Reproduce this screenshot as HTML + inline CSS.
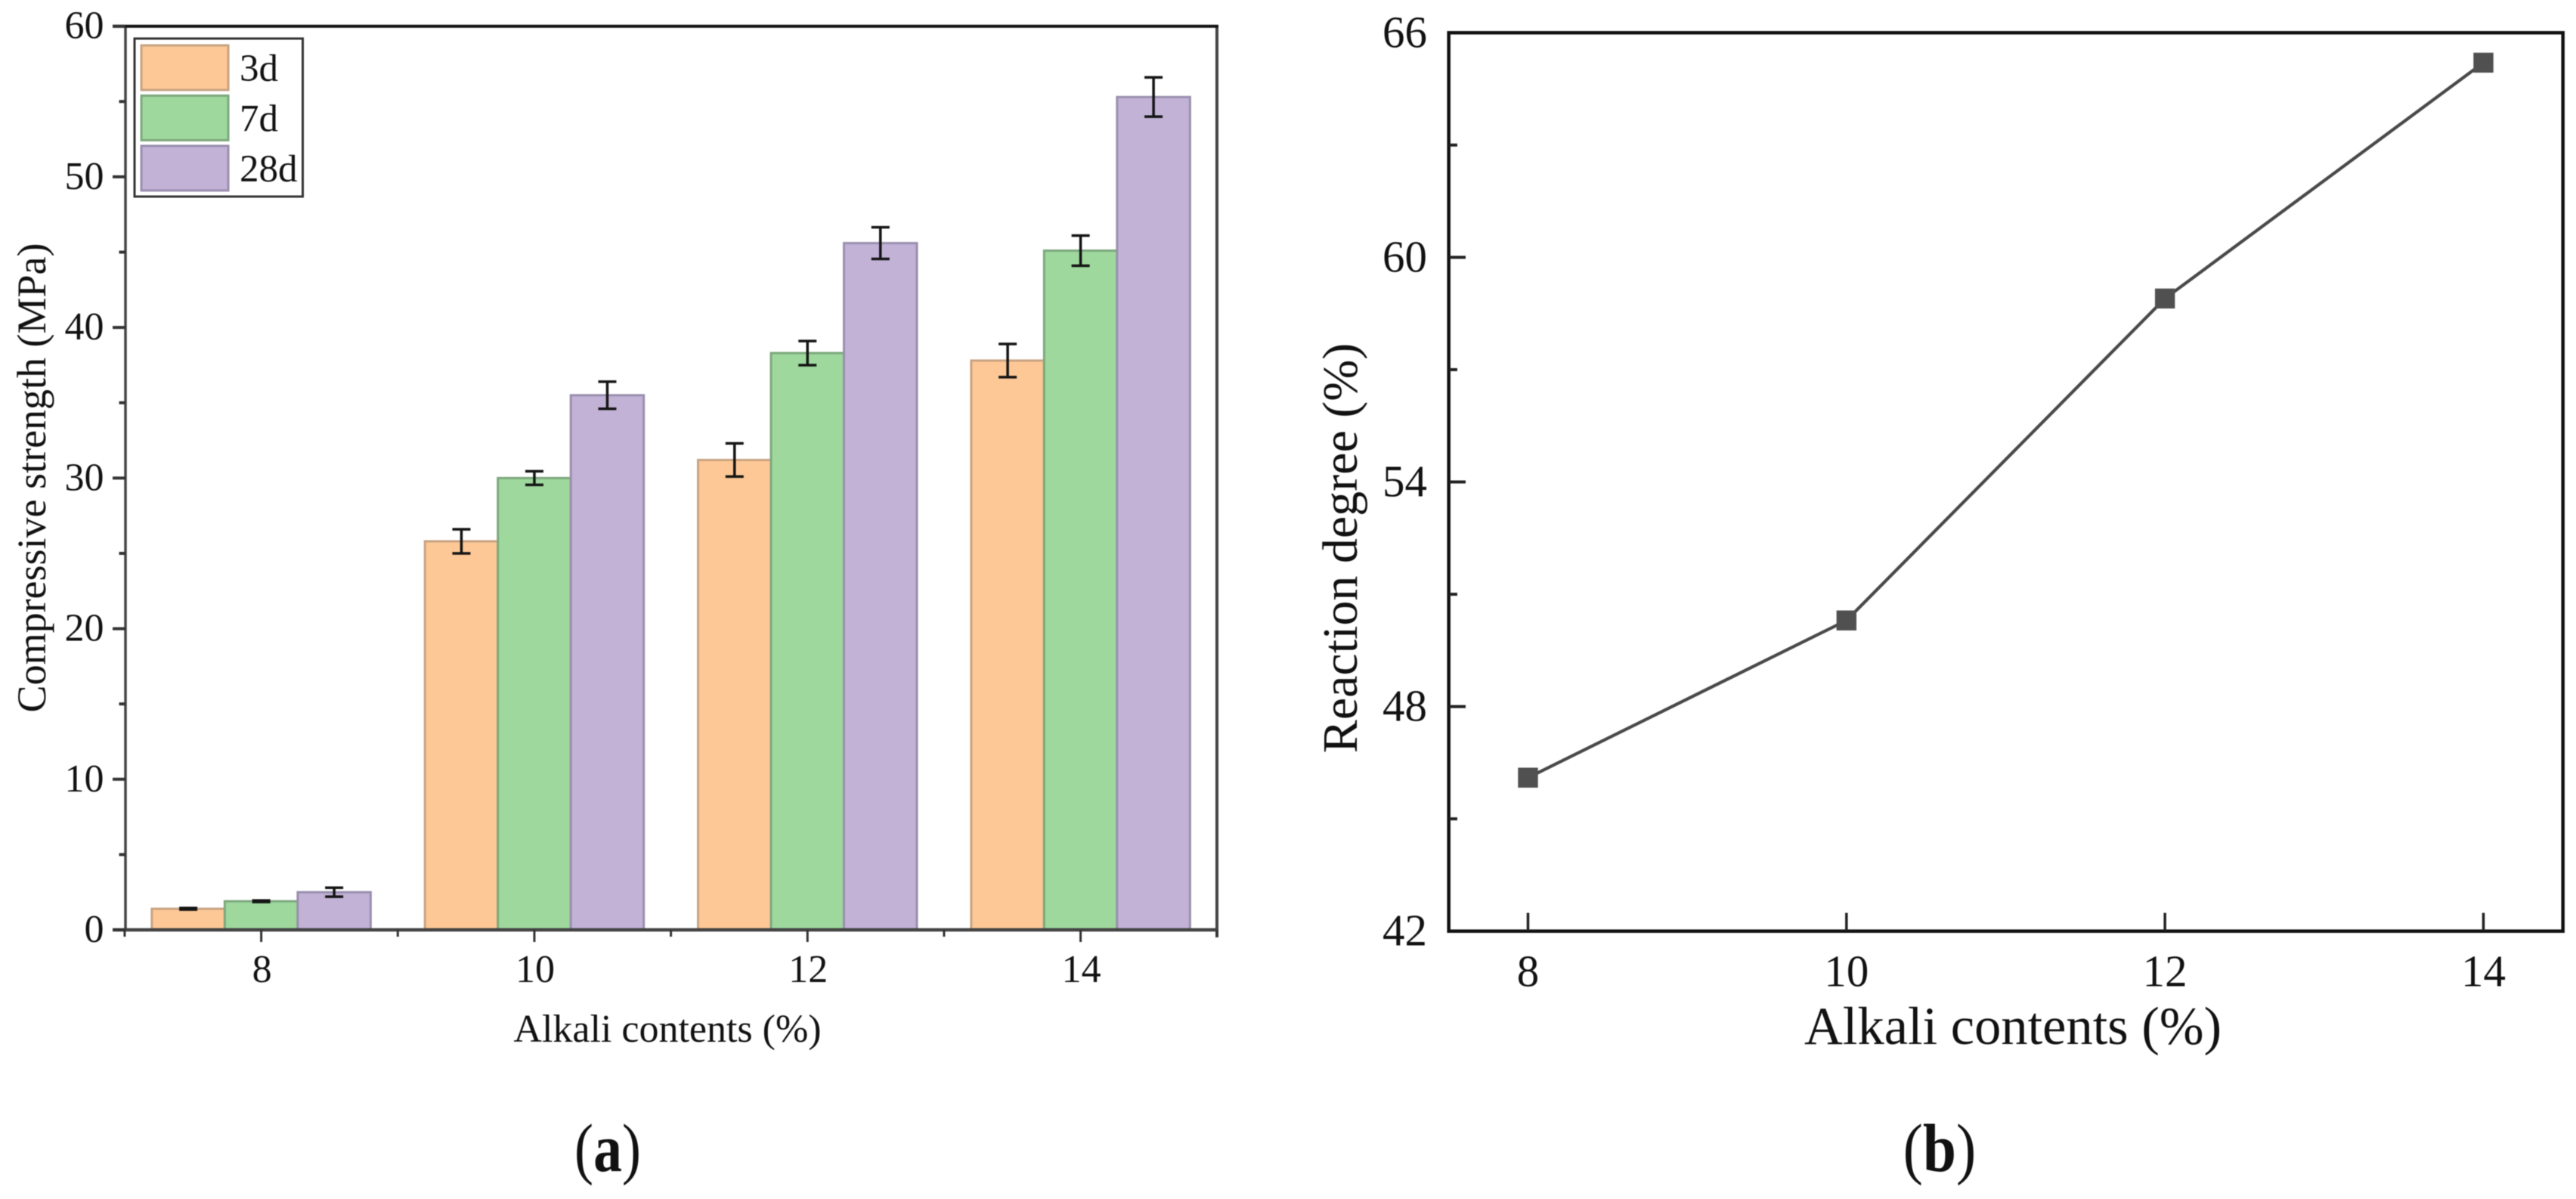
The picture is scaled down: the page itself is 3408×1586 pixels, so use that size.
<!DOCTYPE html>
<html lang="en">
<head>
<meta charset="utf-8">
<title>Compressive strength and reaction degree vs alkali contents</title>
<style>
  html, body { margin: 0; padding: 0; background: #ffffff; }
  svg { display: block; font-family: "Liberation Serif", serif; fill: #111; filter: blur(0.6px); }
</style>
</head>
<body>
<svg id="figure" xmlns="http://www.w3.org/2000/svg" width="3408" height="1586" viewBox="0 0 3408 1586">
  <rect x="0" y="0" width="3408" height="1586" fill="#ffffff"/>
  <g id="panel-a"></g>
  <g id="panel-b"></g>
  <text transform="translate(60 632) rotate(-90)" text-anchor="middle" font-size="54">Compressive strength (MPa)</text>
  <text x="883" y="1378" text-anchor="middle" font-size="52">Alkali contents (%)</text>
  <text transform="translate(804 1549) scale(0.84 1)" text-anchor="middle" font-size="90">(<tspan font-weight="bold">a</tspan>)</text>
  <text transform="translate(1795 725) rotate(-90)" text-anchor="middle" font-size="66">Reaction degree (%)</text>
  <text x="2663" y="1381" text-anchor="middle" font-size="70.5">Alkali contents (%)</text>
  <text transform="translate(2566 1549) scale(0.88 1)" text-anchor="middle" font-size="90">(<tspan font-weight="bold">b</tspan>)</text>
</svg>
<script>
// Panel (a) data
var categoriesA = [8, 10, 12, 14];
var seriesNames = ["3d", "7d", "28d"];
var strength3d = [1.4, 25.8, 31.2, 37.8];
var strength7d = [1.9, 30.0, 38.3, 45.1];
var strength28d = [2.5, 35.5, 45.6, 55.3];
var error3d = [0.05, 0.8, 1.1, 1.1];
var error7d = [0.05, 0.45, 0.8, 1.0];
var error28d = [0.3, 0.9, 1.05, 1.3];
var yMajorTicksA = [0, 10, 20, 30, 40, 50, 60];
var yMinorTicksA = [5, 15, 25, 35, 45, 55];
var xMinorTicksA = [7, 9, 11, 13, 15];

// Panel (b) data
var categoriesB = [8, 10, 12, 14];
var reactionDegree = [46.1, 50.3, 58.9, 65.2];
var yMajorTicksB = [42, 48, 54, 60, 66];
var yMinorTicksB = [45, 51, 57, 63];

var SVG_NS = "http://www.w3.org/2000/svg";

function make(tag, attrs, parent) {
  var node = document.createElementNS(SVG_NS, tag);
  for (var key in attrs) { node.setAttribute(key, attrs[key]); }
  parent.appendChild(node);
  return node;
}

// Axis functions
function xA(v) { return 345.6 + (v - 8) * 180.67; }
function yA(v) { return 1230 - v * (1195.3 / 60); }
function xB(v) { return 2021.5 + (v - 8) * 210.67; }
function yB(v) { return 1231.7 - (v - 42) * (1188.4 / 24); }

var panelA = document.getElementById("panel-a");
var panelB = document.getElementById("panel-b");

// ---------- Panel (a) ----------
var barWidth = 96.5;
var allStrength = [strength3d, strength7d, strength28d];
var allError = [error3d, error7d, error28d];
var fills = ["#fdc896", "#9ed89d", "#c1b2d6"];
var edges = ["#c8a382", "#7da87e", "#9a8fae"];

allStrength.forEach(function (values, s) {
  values.forEach(function (value, c) {
    var center = xA(categoriesA[c]) + (s - 1) * barWidth;
    var bar = make("rect", {
      x: center - barWidth / 2,
      y: yA(value),
      width: barWidth,
      height: yA(0) - yA(value),
      fill: fills[s],
      stroke: edges[s],
      "stroke-width": 3
    }, panelA);
    
    
  });
});

allStrength.forEach(function (values, s) {
  values.forEach(function (value, c) {
    var center = xA(categoriesA[c]) + (s - 1) * barWidth;
    var err = allError[s][c];
    var hi = yA(value + err);
    var lo = yA(value - err);
    var d = "M" + (center - 12) + " " + hi + "H" + (center + 12) +
            "M" + center + " " + hi + "V" + lo +
            "M" + (center - 12) + " " + lo + "H" + (center + 12);
    var errorBar = make("path", { d: d, fill: "none", stroke: "#151515", "stroke-width": 3.5 }, panelA);
    
    
  });
});

var axisAColor = "#444444";
var leftA = make("line", { x1: 166, y1: 34.7, x2: 166, y2: 1232, stroke: axisAColor, "stroke-width": 3.5 }, panelA);


var rightA = make("line", { x1: 1610, y1: 33, x2: 1610, y2: 1240, stroke: axisAColor, "stroke-width": 4 }, panelA);


var topA = make("line", { x1: 149, y1: 34.7, x2: 1612, y2: 34.7, stroke: "#111111", "stroke-width": 4 }, panelA);


var bottomA = make("line", { x1: 149, y1: 1230, x2: 1612, y2: 1230, stroke: axisAColor, "stroke-width": 4.5 }, panelA);



yMajorTicksA.forEach(function (v) {
  var tick = make("line", { x1: 149, y1: yA(v), x2: 166, y2: yA(v), stroke: "#333333", "stroke-width": 4 }, panelA);
  
  
  var label = make("text", { x: 137.5, y: yA(v) + 16, "text-anchor": "end", "font-size": 52 }, panelA);
  
  
  label.textContent = String(v);
});
yMinorTicksA.forEach(function (v) {
  var tick = make("line", { x1: 157.5, y1: yA(v), x2: 166, y2: yA(v), stroke: "#333333", "stroke-width": 4 }, panelA);
  
  
});
categoriesA.forEach(function (v) {
  var tick = make("line", { x1: xA(v), y1: 1230, x2: xA(v), y2: 1246, stroke: "#333333", "stroke-width": 3 }, panelA);
  
  
  var label = make("text", { x: xA(v) + 1, y: 1299, "text-anchor": "middle", "font-size": 52 }, panelA);
  
  
  label.textContent = String(v);
});
xMinorTicksA.forEach(function (v) {
  var tick = make("line", { x1: xA(v), y1: 1230, x2: xA(v), y2: 1239, stroke: "#333333", "stroke-width": 3 }, panelA);
  
  
});

// Legend
var legendGroup = make("g", {}, panelA);


var legendBox = make("rect", { x: 178, y: 51, width: 222.5, height: 209, fill: "#ffffff", stroke: "#333333", "stroke-width": 3 }, legendGroup);


seriesNames.forEach(function (name, s) {
  var top = 60 + s * 66.5;
  var swatch = make("rect", { x: 187, y: top, width: 115, height: 59, fill: fills[s], stroke: edges[s], "stroke-width": 3 }, legendGroup);
  
  
  var label = make("text", { x: 317, y: top + 47, "font-size": 51 }, legendGroup);
  
  
  label.textContent = name;
});

// ---------- Panel (b) ----------
var axisBColor = "#111111";
var frameB = make("rect", { x: 1916.7, y: 43.3, width: 1474, height: 1188.4, fill: "none", stroke: axisBColor, "stroke-width": 4.5 }, panelB);



yMajorTicksB.forEach(function (v) {
  if (v !== 42 && v !== 66) {
    var tick = make("line", { x1: 1917, y1: yB(v), x2: 1939, y2: yB(v), stroke: "#222222", "stroke-width": 4 }, panelB);
    
    
  }
  var label = make("text", { x: 1888, y: yB(v) + 19, "text-anchor": "end", "font-size": 59 }, panelB);
  
  
  label.textContent = String(v);
});
yMinorTicksB.forEach(function (v) {
  var tick = make("line", { x1: 1917, y1: yB(v), x2: 1928, y2: yB(v), stroke: "#222222", "stroke-width": 4 }, panelB);
  
  
});
categoriesB.forEach(function (v) {
  var tick = make("line", { x1: xB(v), y1: 1231, x2: xB(v), y2: 1207.5, stroke: "#222222", "stroke-width": 3.5 }, panelB);
  
  
  var label = make("text", { x: xB(v), y: 1304.5, "text-anchor": "middle", "font-size": 59 }, panelB);
  
  
  label.textContent = String(v);
});

var linePoints = reactionDegree.map(function (v, i) {
  return xB(categoriesB[i]) + "," + yB(v);
}).join(" ");
var reactionLine = make("polyline", { points: linePoints, fill: "none", stroke: "#484848", "stroke-width": 4.2 }, panelB);



reactionDegree.forEach(function (v, i) {
  var marker = make("rect", {
    x: xB(categoriesB[i]) - 13.2,
    y: yB(v) - 13.2,
    width: 26.4,
    height: 26.4,
    fill: "#505050"
  }, panelB);
  
  
});
</script>
</body>
</html>
